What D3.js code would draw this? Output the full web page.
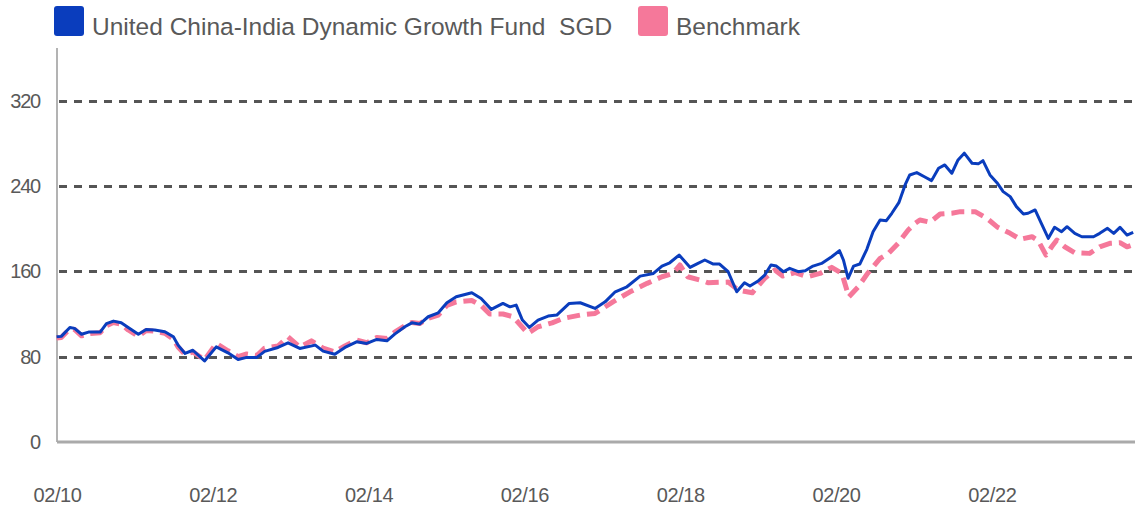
<!DOCTYPE html>
<html>
<head>
<meta charset="utf-8">
<script src="https://cdn.jsdelivr.net/npm/d3@7/dist/d3.min.js"></script>
<style>
  html, body { margin: 0; padding: 0; background: #fff; }
  svg { display: block; }
  text { font-family: "Liberation Sans", Arial, sans-serif; fill: #595959; }
</style>
</head>
<body>
<svg id="chart" width="1135" height="511"></svg>
<script>
// ---- data (dates as decimal years) ----
const seriesNames = ["United China-India Dynamic Growth Fund  SGD", "Benchmark"];
const yTicks = [0, 80, 160, 240, 320];
const xTickLabels = ["02/10", "02/12", "02/14", "02/16", "02/18", "02/20", "02/22"];

const fundDates = [2010.08,2010.14,2010.25,2010.31,2010.40,2010.49,2010.64,2010.72,2010.81,2010.91,2011.00,2011.13,2011.23,2011.34,2011.47,2011.58,2011.64,2011.73,2011.83,2011.98,2012.13,2012.28,2012.41,2012.52,2012.65,2012.75,2012.92,2013.05,2013.20,2013.40,2013.50,2013.65,2013.78,2013.93,2014.06,2014.19,2014.32,2014.42,2014.55,2014.64,2014.74,2014.85,2014.98,2015.09,2015.21,2015.41,2015.53,2015.66,2015.81,2015.90,2015.98,2016.06,2016.15,2016.26,2016.39,2016.50,2016.66,2016.80,2016.99,2017.12,2017.25,2017.40,2017.57,2017.74,2017.85,2017.95,2018.07,2018.21,2018.30,2018.40,2018.51,2018.59,2018.70,2018.81,2018.91,2018.98,2019.09,2019.17,2019.25,2019.32,2019.41,2019.49,2019.60,2019.69,2019.79,2019.90,2020.03,2020.13,2020.18,2020.24,2020.31,2020.39,2020.48,2020.56,2020.65,2020.73,2020.80,2020.89,2020.97,2021.03,2021.12,2021.23,2021.31,2021.40,2021.48,2021.57,2021.65,2021.73,2021.83,2021.91,2021.97,2022.06,2022.15,2022.23,2022.32,2022.40,2022.49,2022.55,2022.64,2022.72,2022.81,2022.89,2022.98,2023.05,2023.15,2023.24,2023.39,2023.47,2023.57,2023.65,2023.73,2023.82,2023.90];
const fundValues = [98.6,99,107.4,106.5,101,103,103,111,113.3,111.7,107.4,101,105.5,105,103.3,98.6,90.8,83,86,76,89.2,83.6,77.4,79.3,79.3,85,88.6,93,87.7,90.8,85.2,82.3,88.6,93.9,92.4,96.1,94.8,101.1,108,111.7,110.5,117.4,121.1,130.5,136.1,139.9,134.5,124.3,129.9,126.7,128.3,114.3,107.4,114.3,118,119,129.9,130.5,125.2,131.4,140.8,145.5,155.5,158,164.9,168,175.2,163.7,167,170.6,166.8,166.8,159.6,140.8,149.3,146.2,151.2,156.5,165.9,164.9,159.6,162.8,159.6,160.5,164.9,167.4,173.7,179.3,170.6,153.4,164.9,166.8,180.6,197.1,208.1,207.4,214.4,224.3,240.9,250.3,252.5,248.2,245,256.6,259.7,251.9,264.4,270.7,261.3,260.7,263.7,250.3,243.1,234.7,230,220.6,213.7,214.4,217.5,205,190.9,201.2,197.1,201.8,195.6,192.4,192.4,195.6,200.3,195.6,201.2,194,196.5];

const benchDates = [2010.08,2010.14,2010.25,2010.31,2010.40,2010.49,2010.64,2010.72,2010.81,2010.91,2011.00,2011.13,2011.23,2011.34,2011.47,2011.58,2011.64,2011.73,2011.83,2011.98,2012.13,2012.28,2012.41,2012.52,2012.65,2012.75,2012.92,2013.05,2013.20,2013.35,2013.50,2013.65,2013.78,2013.93,2014.06,2014.19,2014.32,2014.42,2014.55,2014.64,2014.74,2014.85,2014.98,2015.09,2015.21,2015.41,2015.53,2015.64,2015.81,2015.94,2016.13,2016.26,2016.44,2016.58,2016.80,2016.99,2017.22,2017.44,2017.66,2017.85,2017.99,2018.08,2018.18,2018.34,2018.44,2018.70,2018.83,2019.01,2019.17,2019.30,2019.40,2019.56,2019.72,2019.88,2020.03,2020.16,2020.25,2020.37,2020.49,2020.65,2020.75,2020.88,2021.01,2021.10,2021.16,2021.29,2021.42,2021.57,2021.68,2021.87,2022.02,2022.16,2022.32,2022.45,2022.60,2022.68,2022.78,2022.86,2022.92,2023.02,2023.15,2023.34,2023.47,2023.60,2023.73,2023.82,2023.90];
const benchValues = [97.5,98,106,105.5,99.5,101.5,102.5,109,112,110.5,105,99,104.5,104,102,96.5,89,82,84.5,77,92.4,85.5,80,82.5,81,88,90,98.6,89,94.8,88,84.5,90,95.5,93,98,97,103,109,112,111,116,119,128,131.4,132.7,128,119.9,120,117.4,101.8,108,111.7,115.8,119,120.5,131.4,140.8,148.7,154.9,158,165.9,154.9,151.8,149.3,149.9,142.4,139.9,153.4,161.2,155.6,158.7,154.9,158,163.7,158,136.1,145.5,158,172.1,176.2,186.2,198.7,205,208.1,206,213.7,214.4,215.9,215.9,209.7,201.2,195.6,190,192.4,188.7,175.2,183.7,189.3,183,177.4,176.8,183,186.2,186.8,183,185];

const colors = ["#0a3dbd", "#f5789a"];

// ---- helpers ----
function decToDate(t) {
  const yr = Math.floor(t);
  const start = new Date(yr, 0, 1), end = new Date(yr + 1, 0, 1);
  return new Date(start.getTime() + (t - yr) * (end - start));
}
const fund = fundDates.map((d, i) => ({ date: decToDate(d), value: fundValues[i] }));
const bench = benchDates.map((d, i) => ({ date: decToDate(d), value: benchValues[i] }));

const svg = d3.select("#chart");
const plotLeft = 57, plotBottom = 442, plotTop = 48, plotRight = 1135;

const x = d3.scaleTime()
  .domain([new Date(2010, 1, 1), new Date(2024, 1, 1)])
  .range([plotLeft, plotLeft + 77.9 * 14]);
const y = d3.scaleLinear().domain([0, 320]).range([plotBottom, plotBottom - 341.4]);

// gridlines
svg.append("g").selectAll("line")
  .data(yTicks.filter(v => v > 0))
  .join("line")
  .attr("x1", plotLeft + 2).attr("x2", plotRight)
  .attr("y1", d => Math.round(y(d)) + 0.5).attr("y2", d => Math.round(y(d)) + 0.5)
  .attr("stroke", "#555").attr("stroke-width", 3)
  .attr("stroke-dasharray", "8,7");

// y axis
const yAxis = d3.axisLeft(y).tickValues(yTicks).tickSize(0).tickPadding(17).tickFormat(d3.format("d"));
const gy = svg.append("g").attr("transform", `translate(${plotLeft},0)`).call(yAxis);
gy.select(".domain").remove();
gy.selectAll("text").style("font-size", "20px").style("letter-spacing", "-1.2px").attr("fill", "#595959");
svg.append("line").attr("x1", plotLeft).attr("x2", plotLeft).attr("y1", plotTop).attr("y2", plotBottom)
  .attr("stroke", "#b3b3b3").attr("stroke-width", 2);

// x axis
const xTickDates = xTickLabels.map(s => new Date(2000 + +s.slice(3), +s.slice(0, 2) - 1, 1));
const xAxis = d3.axisBottom(x).tickValues(xTickDates).tickSize(0).tickPadding(46)
  .tickFormat((d, i) => xTickLabels[i]);
const gx = svg.append("g").attr("transform", `translate(0,${plotBottom})`).call(xAxis);
gx.select(".domain").remove();
gx.selectAll("text").style("font-size", "20px").style("letter-spacing", "-0.4px").attr("fill", "#595959");
svg.append("line").attr("x1", plotLeft).attr("x2", plotRight).attr("y1", plotBottom).attr("y2", plotBottom)
  .attr("stroke", "#aaaaaa").attr("stroke-width", 3);

// lines
const line = d3.line().x(d => x(d.date)).y(d => y(d.value));
svg.append("path").datum(bench).attr("d", line)
  .attr("fill", "none").attr("stroke", colors[1]).attr("stroke-width", 5)
  .attr("stroke-dasharray", "13,7").attr("stroke-linejoin", "round");
svg.append("path").datum(fund).attr("d", line)
  .attr("fill", "none").attr("stroke", colors[0]).attr("stroke-width", 3)
  .attr("stroke-linejoin", "round");

// legend
const legendX = [54, 638];
const lg = svg.append("g").selectAll("g").data(seriesNames).join("g")
  .attr("transform", (d, i) => `translate(${legendX[i]},6)`);
lg.append("rect").attr("width", 30).attr("height", 30).attr("rx", 3)
  .attr("fill", (d, i) => colors[i]);
lg.append("text").attr("x", 38).attr("y", 29)
  .style("font-size", "24.5px").style("white-space", "pre")
  .attr("xml:space", "preserve")
  .text(d => d);
</script>
</body>
</html>
